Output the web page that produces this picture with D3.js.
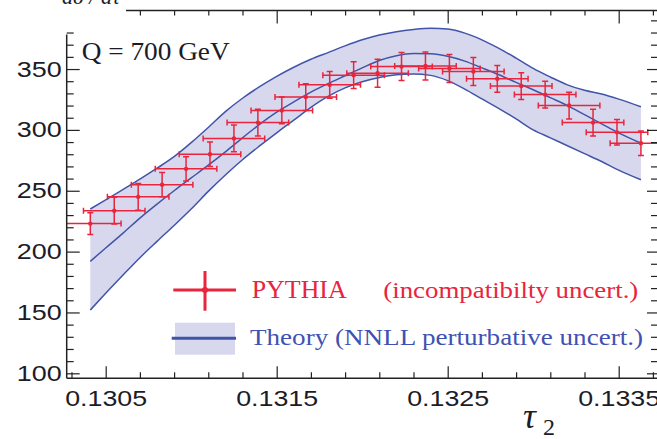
<!DOCTYPE html>
<html>
<head>
<meta charset="utf-8">
<script src="https://cdn.jsdelivr.net/npm/d3@7"></script>
<style>
  body { margin: 0; background: #fff; }
  svg { display: block; }
</style>
</head>
<body>
<svg id="chart" width="657" height="439"></svg>
<script>
// ---- Theory band (NNLL), sampled on a τ2 grid ----
const bandTau = [0.13041, 0.1305, 0.1306, 0.1307, 0.1308, 0.1309, 0.1310, 0.1311, 0.1312, 0.1313,
                 0.1314, 0.1315, 0.1316, 0.1317, 0.1318, 0.1319, 0.1320, 0.1321, 0.1322, 0.1323,
                 0.1324, 0.1325, 0.1326, 0.1327, 0.1328, 0.1329, 0.1330, 0.1331, 0.1332, 0.1333,
                 0.1334, 0.1335, 0.13363];
const bandUpper = [235, 242.5, 251, 259.5, 268.5, 278, 289.5, 302, 315, 326,
                   335.5, 344, 351.5, 358, 363.5, 369, 374, 378, 380.7, 382.5,
                   383.5, 382.8, 379.5, 374, 367, 359, 350.6, 343.5, 337, 332.5,
                   329.5, 325.3, 319];
const bandCentral = [192, 203, 215, 227.5, 239, 250, 260.5, 271, 282, 293.5,
                     304.5, 314.5, 323, 331, 338, 344.5, 351, 357, 361, 362.7,
                     362.5, 360.5, 356.5, 351, 345.3, 339, 333, 326.5, 320, 312.5,
                     305, 297.5, 289];
const bandLower = [152, 165.7, 180.5, 195, 208.4, 221.5, 235, 249.5, 263, 275.5,
                   286.8, 297.6, 308, 318.5, 327.5, 334.5, 339.5, 343, 345.3, 346,
                   344.8, 340.5, 333.5, 325.5, 317.5, 309, 300, 293.5, 287, 280.5,
                   274, 267, 259];

// ---- PYTHIA points with incompatibility uncertainties ----
const pyTau = [0.13041, 0.13055, 0.13069, 0.13083, 0.13097, 0.13111, 0.13125, 0.13139,
               0.13153, 0.13167, 0.13181, 0.13195, 0.13209, 0.13223, 0.13237, 0.13251,
               0.13265, 0.13279, 0.13293, 0.13307, 0.13321, 0.13335, 0.13349, 0.13363];
const pyValue = [223, 233.6, 245, 255, 268, 280, 293, 306,
                 316, 327, 337, 345, 346.5, 352, 352.5, 350.5,
                 348, 342, 336, 329, 320, 306, 298, 289];
const pyErrTau = [0.00018, 0.00018, 0.00018, 0.00018, 0.00018, 0.00018, 0.00018, 0.00018,
                  0.00018, 0.00018, 0.00018, 0.00018, 0.00018, 0.00018, 0.00018, 0.00018,
                  0.00018, 0.00018, 0.00018, 0.00018, 0.00018, 0.00018, 0.00018, 0.00018];
const pyErrValue = [9, 11, 11, 10, 10, 10, 11, 11,
                    11, 11, 11, 11, 11.5, 11.5, 11.5, 11.5,
                    11.5, 11, 11, 11, 11, 11, 10.5, 10];

// ---- Tick labels ----
const xMajorTicks = [0.1305, 0.1315, 0.1325, 0.1335];
const yMajorTicks = [100, 150, 200, 250, 300, 350];

const RED = "#e8253c";
const BLUE = "#4154a8";
const FILL = "#d7d8ee";
const TEXT_BLUE = "#3f51b3";
const AXIS = "#222";

const svg = d3.select("#chart");
const x = d3.scaleLinear().domain([0.130272, 0.133724]).range([66.7, 657]);
const y = d3.scaleLinear().domain([95.9, 398.1]).range([378.3, 10.5]);

svg.append("defs").append("clipPath").attr("id", "plot")
  .append("rect").attr("x", 66.7).attr("y", 10.5).attr("width", 600).attr("height", 367.8);

const plot = svg.append("g").attr("clip-path", "url(#plot)");

// Band
const band = bandTau.map((t, i) => ({ t, hi: bandUpper[i], mid: bandCentral[i], lo: bandLower[i] }));
plot.append("path").datum(band)
  .attr("fill", FILL)
  .attr("d", d3.area().curve(d3.curveMonotoneX).x(d => x(d.t)).y0(d => y(d.lo)).y1(d => y(d.hi)));
["hi", "mid", "lo"].forEach(k => {
  plot.append("path").datum(band)
    .attr("fill", "none").attr("stroke", BLUE).attr("stroke-width", 1.5)
    .attr("d", d3.line().curve(d3.curveMonotoneX).x(d => x(d.t)).y(d => y(d[k])));
});

// PYTHIA error crosses
const pts = pyTau.map((t, i) => ({ t, v: pyValue[i], et: pyErrTau[i], ev: pyErrValue[i] }));
const cap = 3;
const g = plot.append("g").attr("stroke", RED).attr("stroke-width", 1.5).attr("fill", "none");
pts.forEach(d => {
  const cx = x(d.t), cy = y(d.v);
  const x0 = x(d.t - d.et), x1 = x(d.t + d.et);
  const y0 = y(d.v - d.ev), y1 = y(d.v + d.ev);
  g.append("line").attr("x1", x0).attr("x2", x1).attr("y1", cy).attr("y2", cy);
  g.append("line").attr("x1", cx).attr("x2", cx).attr("y1", y0).attr("y2", y1);
  g.append("line").attr("x1", x0).attr("x2", x0).attr("y1", cy - cap).attr("y2", cy + cap);
  g.append("line").attr("x1", x1).attr("x2", x1).attr("y1", cy - cap).attr("y2", cy + cap);
  g.append("line").attr("x1", cx - cap).attr("x2", cx + cap).attr("y1", y0).attr("y2", y0);
  g.append("line").attr("x1", cx - cap).attr("x2", cx + cap).attr("y1", y1).attr("y2", y1);
});
plot.append("g").selectAll("circle").data(pts).join("circle")
  .attr("cx", d => x(d.t)).attr("cy", d => y(d.v)).attr("r", 2.2).attr("fill", RED);

// ---- Frame and ticks ----
const xMinor = d3.range(1303, 1338, 2).map(v => v / 10000)
  .filter(v => !xMajorTicks.some(m => Math.abs(m - v) < 1e-7));
const yMinor = d3.range(110, 400, 10).filter(v => !yMajorTicks.includes(v));

function clean(sel) {
  sel.select(".domain").remove();
  sel.selectAll("line").attr("stroke", AXIS).attr("stroke-width", 1.2);
}

// bottom
svg.append("g").attr("transform", `translate(0,${y.range()[0]})`)
  .call(d3.axisBottom(x).tickValues(xMinor).tickSize(-6).tickFormat("")).call(clean);
const bx = svg.append("g").attr("transform", `translate(0,${y.range()[0]})`)
  .call(d3.axisBottom(x).tickValues(xMajorTicks).tickSize(-12).tickPadding(12).tickFormat(d3.format(".4f")))
  .call(clean);
bx.selectAll("text")
  .attr("font-family", "'Liberation Sans', Arial, sans-serif").attr("font-size", 22)
  .attr("fill", "#1c1c28").attr("textLength", 82).attr("lengthAdjust", "spacingAndGlyphs");

// left
svg.append("g").attr("transform", `translate(${x.range()[0]},0)`)
  .call(d3.axisLeft(y).tickValues(yMinor.filter(v => v <= 380)).tickSize(-7).tickFormat("")).call(clean);
const ly = svg.append("g").attr("transform", `translate(${x.range()[0]},0)`)
  .call(d3.axisLeft(y).tickValues(yMajorTicks).tickSize(-13).tickPadding(5).tickFormat(d3.format("d")))
  .call(clean);
ly.selectAll("text")
  .attr("font-family", "'Liberation Sans', Arial, sans-serif").attr("font-size", 22)
  .attr("fill", "#1c1c28").attr("textLength", 45).attr("lengthAdjust", "spacingAndGlyphs");

// top (starts right of the title area)
svg.append("g").attr("transform", `translate(0,${y.range()[1]})`)
  .call(d3.axisTop(x).tickValues(xMinor.filter(v => v > 0.1306)).tickSize(-5).tickFormat("")).call(clean);
svg.append("g").attr("transform", `translate(0,${y.range()[1]})`)
  .call(d3.axisTop(x).tickValues(xMajorTicks.filter(v => v > 0.1306)).tickSize(-13).tickFormat("")).call(clean);

// right
svg.append("g").attr("transform", `translate(${x.range()[1]},0)`)
  .call(d3.axisLeft(y).tickValues(yMinor).tickSize(6).tickFormat("")).call(clean);
svg.append("g").attr("transform", `translate(${x.range()[1]},0)`)
  .call(d3.axisLeft(y).tickValues(yMajorTicks).tickSize(10).tickFormat("")).call(clean);

// frame lines
const frame = svg.append("g").attr("stroke", AXIS).attr("stroke-width", 1.5);
frame.append("line").attr("x1", x.range()[0]).attr("x2", x.range()[1]).attr("y1", y.range()[0]).attr("y2", y.range()[0]);
frame.append("line").attr("x1", x.range()[0]).attr("x2", x.range()[0]).attr("y1", y.range()[0]).attr("y2", 34.5);
frame.append("line").attr("x1", 126).attr("x2", x.range()[1]).attr("y1", y.range()[1]).attr("y2", y.range()[1]);

// ---- Text ----
const serif = "'Liberation Serif', 'Times New Roman', serif";
// y-axis title runs off the top edge; only its lower part is in view
svg.append("text").attr("x", 62).attr("y", 4)
  .attr("font-family", serif).attr("font-style", "italic").attr("font-size", 22).attr("fill", "#1c1c28")
  .text("dσ / dτ");

svg.append("text").attr("x", 81.7).attr("y", 59.5)
  .attr("font-family", serif).attr("font-size", 25).attr("fill", "#1c1c28")
  .attr("textLength", 148).attr("lengthAdjust", "spacingAndGlyphs")
  .text("Q = 700 GeV");

svg.append("text").attr("x", 523).attr("y", 428)
  .attr("font-family", serif).attr("font-style", "italic").attr("font-size", 36).attr("fill", "#1c1c28")
  .text("τ");
svg.append("text").attr("x", 543).attr("y", 435)
  .attr("font-family", serif).attr("font-size", 24).attr("fill", "#1c1c28")
  .text("2");

// ---- Legend ----
const leg = svg.append("g");
leg.append("line").attr("x1", 173.3).attr("x2", 236).attr("y1", 290).attr("y2", 290)
  .attr("stroke", RED).attr("stroke-width", 3);
leg.append("line").attr("x1", 205).attr("x2", 205).attr("y1", 271).attr("y2", 310.7)
  .attr("stroke", RED).attr("stroke-width", 3);
leg.append("circle").attr("cx", 205).attr("cy", 290).attr("r", 3).attr("fill", RED);
leg.append("text").attr("x", 251.7).attr("y", 298)
  .attr("font-family", serif).attr("font-size", 25).attr("fill", RED)
  .attr("textLength", 95).attr("lengthAdjust", "spacingAndGlyphs").text("PYTHIA");
leg.append("text").attr("x", 383.3).attr("y", 297.5)
  .attr("font-family", serif).attr("font-size", 24).attr("fill", RED)
  .attr("textLength", 255).attr("lengthAdjust", "spacingAndGlyphs").text("(incompatibilty uncert.)");

leg.append("rect").attr("x", 175).attr("y", 322.7).attr("width", 60).attr("height", 32).attr("fill", FILL);
leg.append("line").attr("x1", 171.7).attr("x2", 236).attr("y1", 338.3).attr("y2", 338.3)
  .attr("stroke", BLUE).attr("stroke-width", 3);
leg.append("text").attr("x", 250).attr("y", 345)
  .attr("font-family", serif).attr("font-size", 24).attr("fill", TEXT_BLUE)
  .attr("textLength", 393).attr("lengthAdjust", "spacingAndGlyphs").text("Theory (NNLL perturbative uncert.)");
</script>
</body>
</html>
